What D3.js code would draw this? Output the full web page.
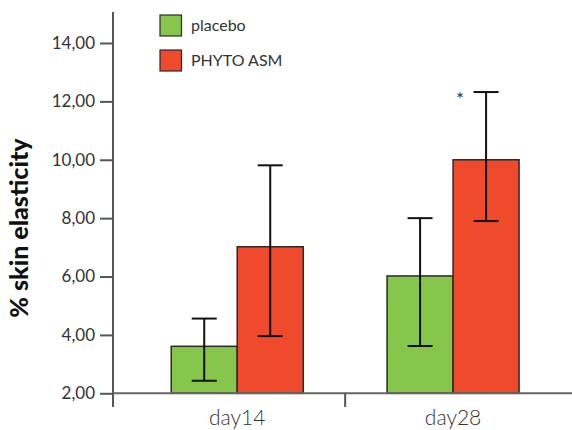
<!DOCTYPE html>
<html><head><meta charset="utf-8">
<script src="https://cdn.jsdelivr.net/npm/d3@7"></script>
<style>body{margin:0;background:#fff}svg{display:block}text{font-family:"Lato","DejaVu Sans",sans-serif}</style>
</head><body><svg id="c" width="572" height="430"></svg>
<script>
const categories = ["day14", "day28"];
const seriesNames = ["placebo", "PHYTO ASM"];
const placeboMean = [3.61, 6.02];
const placeboLow = [2.43, 3.62];
const placeboHigh = [4.56, 8.0];
const phytoMean = [7.02, 10.0];
const phytoLow = [3.96, 7.9];
const phytoHigh = [9.81, 12.32];
const significance = ["", "*"];
const yTicks = [2, 4, 6, 8, 10, 12, 14];
const colors = ["#86C64A", "#EE4A2B"];

const svg = d3.select("#c");
const y = d3.scaleLinear().domain([2, 14]).range([393.3, 43]);
const x = d3.scaleBand().domain(categories).range([129.3, 561]).padding(0);
const groupW = 132;
const xs = d3.scaleBand().domain(seriesNames).range([0, groupW]);

const series = [
  {name: seriesNames[0], mean: placeboMean, lo: placeboLow, hi: placeboHigh, color: colors[0]},
  {name: seriesNames[1], mean: phytoMean, lo: phytoLow, hi: phytoHigh, color: colors[1]}
];

series.forEach(s => {
  svg.append("g").selectAll("rect").data(categories).join("rect")
    .attr("x", (c) => x(c) + x.bandwidth()/2 - groupW/2 + xs(s.name))
    .attr("y", (c, i) => y(s.mean[i]))
    .attr("width", xs.bandwidth())
    .attr("height", (c, i) => y(2) - y(s.mean[i]))
    .attr("fill", s.color).attr("stroke", "#2a2a2a").attr("stroke-width", 1.5);
});

series.forEach(s => {
  const g = svg.append("g").attr("stroke", "#111").attr("stroke-width", 2);
  categories.forEach((c, i) => {
    const cx = x(c) + x.bandwidth()/2 - groupW/2 + xs(s.name) + xs.bandwidth()/2;
    g.append("line").attr("x1", cx).attr("x2", cx).attr("y1", y(s.hi[i])).attr("y2", y(s.lo[i]));
    g.append("line").attr("x1", cx-12.5).attr("x2", cx+12.5).attr("y1", y(s.hi[i])).attr("y2", y(s.hi[i]));
    g.append("line").attr("x1", cx-12.5).attr("x2", cx+12.5).attr("y1", y(s.lo[i])).attr("y2", y(s.lo[i]));
  });
});

categories.forEach((c, i) => {
  if (!significance[i]) return;
  const cx = x(c) + x.bandwidth()/2 - groupW/2 + xs(seriesNames[1]) + xs.bandwidth()/2;
  svg.append("text").attr("x", cx - 26).attr("y", y(phytoHigh[i]) + 14)
    .attr("text-anchor", "middle").attr("font-size", 19).attr("fill", "#333").text(significance[i]);
});

const yAxis = d3.axisLeft(y).tickValues(yTicks).tickSize(13).tickPadding(5)
  .tickFormat(d => d3.format(".2f")(d).replace(".", ","));
const gy = svg.append("g").attr("transform", "translate(113,0)").call(yAxis);
gy.select(".domain").remove();
gy.selectAll(".tick line").attr("stroke", "#555").attr("stroke-width", 2);
gy.selectAll(".tick text").attr("font-size", 17).attr("fill", "#333").attr("font-family", "Lato");
svg.append("line").attr("x1", 113).attr("x2", 113).attr("y1", 12).attr("y2", 407)
  .attr("stroke", "#555").attr("stroke-width", 2);

svg.append("line").attr("x1", 113).attr("x2", 572).attr("y1", y(2)).attr("y2", y(2))
  .attr("stroke", "#666").attr("stroke-width", 2);
const xAxis = d3.axisBottom(x).tickSize(0).tickPadding(17);
const gx = svg.append("g").attr("transform", `translate(0,${y(2)})`).call(xAxis);
gx.select(".domain").remove();
gx.selectAll(".tick text").attr("font-size", 21).attr("font-weight", 300).attr("fill", "#333").attr("font-family", "Lato");
svg.append("line").attr("x1", x(categories[1])).attr("x2", x(categories[1]))
  .attr("y1", y(2)).attr("y2", 407).attr("stroke", "#555").attr("stroke-width", 2);

svg.append("text").attr("transform", "translate(28,228) rotate(-90)")
  .attr("text-anchor", "middle").attr("font-size", 25).attr("font-weight", 900)
  .attr("fill", "#111").text("% skin elasticity");

series.forEach((s, i) => {
  const ly = 15 + i * 35;
  svg.append("rect").attr("x", 160).attr("y", ly).attr("width", 21.5).attr("height", 21)
    .attr("fill", s.color).attr("stroke", "#2a2a2a").attr("stroke-width", 1.2);
  svg.append("text").attr("x", 191).attr("y", ly + 16).attr("font-size", 16)
    .attr("fill", "#333").text(s.name);
});
</script></body></html>
